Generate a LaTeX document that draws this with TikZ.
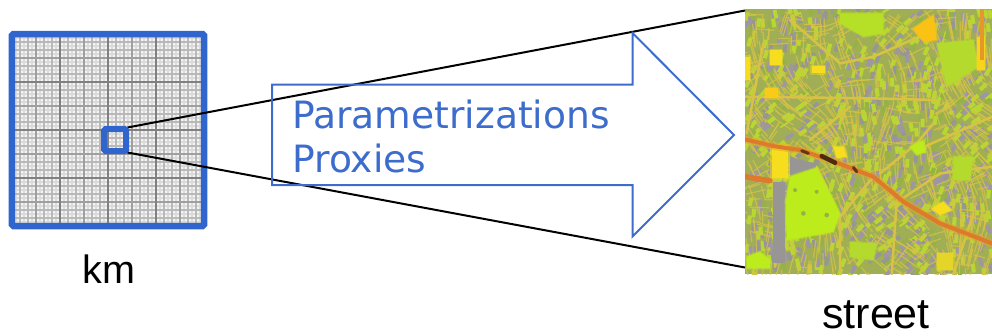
\documentclass[tikz,border=0pt]{standalone}
\usepackage{fontspec}
\usepackage{xcolor}
\usetikzlibrary{positioning, calc}
\setmainfont{Liberation Sans}
\newfontfamily\arrowfont{DejaVu Sans}
\definecolor{frameblue}{RGB}{49,101,206}
\definecolor{arrowblue}{RGB}{60,108,204}
\definecolor{mapbase}{RGB}{160,175,85}
\definecolor{mapa}{RGB}{152,150,148}
\definecolor{mapb}{RGB}{150,178,70}
\definecolor{mapc}{RGB}{185,215,50}
\definecolor{mapd}{RGB}{158,150,162}
\definecolor{mapstreet}{RGB}{216,194,70}
\definecolor{mapyellow}{RGB}{246,222,30}
\definecolor{maplime}{RGB}{188,236,28}
\definecolor{maproad}{RGB}{222,122,44}
\tikzset{
    fine/.style={gray!55, line width=0.36mm},
    faint/.style={gray!28, line width=0.4mm},
    medium/.style={gray!75, line width=0.4mm},
    heavy/.style={gray, line width=0.36mm},
    gridframe/.style={
        draw=frameblue,
        line width=1.3mm,
        rounded corners=0.3mm,
        inner sep=0pt,
        outer sep=0pt,
    },
    cell/.style={
        draw=frameblue,
        line width=1.2mm,
        rounded corners=0.3mm,
        inner sep=0pt,
        outer sep=0.3mm,
    },
    zoomline/.style={black, line width=0.4mm},
    flowarrow/.style={draw=arrowblue, line width=0.4mm},
    caption/.style={font=\fontsize{22.5}{26}\selectfont, text=black, inner sep=0pt},
    street/.style={mapstreet, line width=0.5mm, line cap=round},
    road/.style={maproad, line width=1.1mm, line cap=round, line join=round},
    patch/.style={fill=#1, draw=#1, draw opacity=0.45, line width=0.5mm, line join=round},
}

\begin{document}
\begin{tikzpicture}[x=0.2mm,y=-0.2mm]
    \useasboundingbox (0,0) rectangle (992,335);

    % km grid
    \fill[gray!8] (12,34) rectangle (204,226);
    \begin{scope}
        \clip (15,37) rectangle (201,223);
        \foreach \k in {-12,...,12} {
            \draw[faint] ({108+8*\k+4},34) -- ({108+8*\k+4},226);
            \draw[faint] (12,{130+8*\k+4}) -- (204,{130+8*\k+4});
        }
        \foreach \k in {-12,...,12} {
            \draw[fine] ({108+8*\k},34) -- ({108+8*\k},226);
            \draw[fine] (12,{130+8*\k}) -- (204,{130+8*\k});
        }
        \foreach \k in {-4,...,4} {
            \draw[medium] ({108+24*\k},34) -- ({108+24*\k},226);
            \draw[medium] (12,{130+24*\k}) -- (204,{130+24*\k});
        }
        \foreach \k in {-2,0,2} {
            \draw[heavy] ({108+24*\k},34) -- ({108+24*\k},226);
            \draw[heavy] (12,{130+24*\k}) -- (204,{130+24*\k});
        }
    \end{scope}
    \node [gridframe, minimum size=38.4mm] (grid) at (108,130) {};
    \node [caption, anchor=base] (km) at (109,283) {km};

    % street map
    \begin{scope}[shift={(740,0)},x=0.0667mm,y=-0.0667mm]
        \clip (15,28) rectangle (756,822);
        \fill[mapbase] (15,28) rectangle (756,822);
        \pgfmathsetseed{4711}
        \foreach \i in {1,...,1100} {
            \pgfmathsetmacro{\px}{15+741*rnd}
            \pgfmathsetmacro{\py}{28+794*rnd}
            \pgfmathsetmacro{\ang}{70+40*sin(\px*0.6)*cos(\py*0.5)}
            \pgfmathtruncatemacro{\pick}{int(5*rnd)}
            \ifcase\pick\relax
                \def\tilecol{mapa}\or\def\tilecol{mapb}\or\def\tilecol{mapc}\or\def\tilecol{mapd}\else\def\tilecol{mapc}\fi
            \fill[\tilecol, rotate around={\ang:(\px,\py)}] (\px-13,\py-6) rectangle (\px+13,\py+6);
        }
        % minor streets
        \foreach \i in {1,...,900} {
            \pgfmathsetmacro{\px}{15+741*rnd}
            \pgfmathsetmacro{\py}{28+794*rnd}
            \pgfmathsetmacro{\ang}{70+40*sin(\px*0.6)*cos(\py*0.5)+90*int(1.3*rnd)}
            \pgfmathsetmacro{\len}{30+40*rnd}
            \draw[street, line width=0.24mm, opacity=0.75] (\px,\py) -- ++(\ang:\len);
        }
        % main streets
        \draw[street] (15,290) -- (400,295) -- (590,300);
        \draw[street] (70,130) -- (20,400);
        \draw[street] (150,60) -- (300,190) -- (400,170) -- (560,100);
        \draw[street] (330,320) -- (210,420);
        \draw[street] (580,370) -- (530,430) -- (420,520);
        \draw[street] (756,350) -- (530,450);
        \draw[street] (230,500) -- (300,650) -- (300,822);
        \draw[street] (400,530) -- (300,650);
        \draw[street] (100,540) -- (105,800);
        \draw[street] (756,500) -- (600,520) -- (480,600);
        \draw[street] (700,640) -- (640,822);
        \draw[street] (470,600) -- (455,822);
        % grey strip, parks and yellow patches
        \fill[mapa] (100,545) rectangle (135,790);
        \fill[mapa] (150,470) -- (225,490) -- (225,505) -- (150,525) -- cycle;
        \path[patch=maplime] (137,605) -- (150,530) -- (230,503) -- (300,640) -- (280,695) -- (140,720) -- cycle;
        \fill[mapb] (190,640) circle (7) (260,645) circle (7) (165,570) circle (6) (230,575) circle (6);
        \path[patch=mapyellow] (95,435) rectangle (145,535);
        \path[patch=maplime!80!mapbase] (300,40) -- (430,40) -- (430,100) -- (370,110) -- (300,70) -- cycle;
        \path[patch=maplime!70!mapbase] (590,130) -- (700,120) -- (715,200) -- (620,260) -- cycle;
        \path[patch=mapyellow] (90,150) rectangle (125,195);
        \path[patch=mapyellow!80!orange] (75,265) -- (115,265) -- (115,295) -- (75,295) -- cycle;
        \path[patch=mapyellow] (215,198) rectangle (255,220);
        \path[patch=mapyellow!70!orange] (520,85) -- (580,45) -- (590,120) -- (550,125) -- cycle;
        \path[patch=maplime] (510,440) -- (550,420) -- (555,455) -- (530,465) -- cycle;
        \path[patch=mapyellow] (575,625) -- (610,605) -- (635,630) -- (600,645) -- cycle;
        \path[patch=maplime] (20,770) -- (60,755) -- (90,780) -- (90,805) -- (20,805) -- cycle;
        \path[patch=mapyellow] (15,170) rectangle (30,240);
        \path[patch=mapyellow!80!mapbase] (590,760) rectangle (640,810);
        \path[patch=mapyellow!90!orange] (712,110) rectangle (735,210);
        \path[patch=maplime!70!mapbase] (330,725) -- (410,730) -- (400,780) -- (330,770) -- cycle;
        \path[patch=maplime!70!mapbase] (640,470) -- (700,470) -- (690,540) -- (640,540) -- cycle;
        \path[patch=mapyellow] (280,440) -- (310,440) -- (320,470) -- (290,475) -- cycle;
        % railway
        \draw[maproad!70!mapyellow, line width=0.7mm] (725,28) -- (725,180);
        \draw[road, maproad!60!mapyellow, line width=1.5mm, opacity=0.5] (15,418) -- (100,438) -- (180,450) -- (270,480) -- (400,530) -- (490,605) -- (600,670) -- (756,730);
        \draw[road, line width=0.8mm] (15,418) -- (100,438) -- (180,450) -- (270,480) -- (400,530) -- (490,605) -- (600,670) -- (756,730);
        \draw[road] (15,530) -- (90,542);
        \draw[black!65!maproad, line width=0.9mm, line cap=round] (245,468) -- (285,488);
        \draw[black!55!maproad, line width=0.6mm, line cap=round] (185,452) -- (205,460) (340,502) -- (350,515);
    \end{scope}
    \node [caption, font=\fontsize{24.5}{28}\selectfont, anchor=base] (street) at (876,328) {street};
    \coordinate (map-top) at (745,10.5);
    \coordinate (map-bottom) at (745,267.5);

    \node [cell, minimum size=4.4mm] (box) at (115,140) {};
    \draw[zoomline] (box.north east) -- (map-top);
    \draw[zoomline] (box.south east) -- (map-bottom);

    % arrow
    \draw[flowarrow] (272,84.5) -- (632.5,84.5) -- (632.5,33) -- (734,135) -- (632.5,236.5) -- (632.5,185) -- (272,185) -- cycle;
    \node [anchor=base west, inner sep=0pt, text=arrowblue, align=left,
           font=\arrowfont\fontsize{21.4}{25}\selectfont] (proxies) at (292,172) {Parametrizations\\Proxies};
\end{tikzpicture}
\end{document}
